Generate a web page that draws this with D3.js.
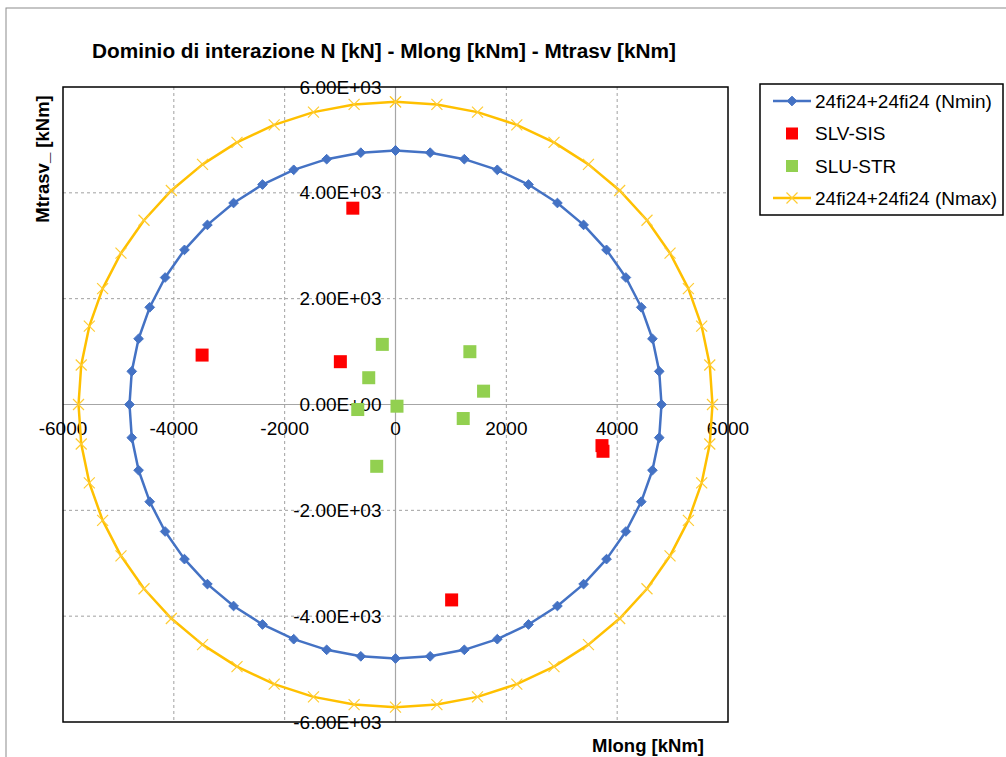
<!DOCTYPE html>
<html>
<head>
<meta charset="utf-8">
<script src="https://cdn.jsdelivr.net/npm/d3@7"></script>
<style>
  html, body { margin: 0; padding: 0; background: #fff; }
  svg { display: block; font-family: "Liberation Sans", Arial, sans-serif; }
</style>
</head>
<body>
<svg id="chart" width="1006" height="757"></svg>
<script>
// ---- Data ----
const xTicks = [-6000, -4000, -2000, 0, 2000, 4000, 6000];
const xTickLabels = ["-6000", "-4000", "-2000", "0", "2000", "4000", "6000"];
const yTicks = [6000, 4000, 2000, 0, -2000, -4000, -6000];
const yTickLabels = ["6.00E+03", "4.00E+03", "2.00E+03", "0.00E+00", "-2.00E+03", "-4.00E+03", "-6.00E+03"];

// 24fi24+24fi24 (Nmin) domain
const nminX = [0,626,1242,1837,2400,2922,3394,3808,4157,4435,4636,4759,4800,4759,4636,4435,4157,3808,3394,2922,2400,1837,1242,626,0,-626,-1242,-1837,-2400,-2922,-3394,-3808,-4157,-4435,-4636,-4759,-4800,-4759,-4636,-4435,-4157,-3808,-3394,-2922,-2400,-1837,-1242,-626,0];
const nminY = [4800,4759,4636,4435,4157,3808,3394,2922,2400,1837,1242,626,0,-626,-1242,-1837,-2400,-2922,-3394,-3808,-4157,-4435,-4636,-4759,-4800,-4759,-4636,-4435,-4157,-3808,-3394,-2922,-2400,-1837,-1242,-626,0,626,1242,1837,2400,2922,3394,3808,4157,4435,4636,4759,4800];

// 24fi24+24fi24 (Nmax) domain
const nmaxX = [0,747,1480,2189,2860,3482,4045,4538,4954,5285,5525,5671,5720,5671,5525,5285,4954,4538,4045,3482,2860,2189,1480,747,0,-747,-1480,-2189,-2860,-3482,-4045,-4538,-4954,-5285,-5525,-5671,-5720,-5671,-5525,-5285,-4954,-4538,-4045,-3482,-2860,-2189,-1480,-747,0];
const nmaxY = [5720,5671,5525,5285,4954,4538,4045,3482,2860,2189,1480,747,0,-747,-1480,-2189,-2860,-3482,-4045,-4538,-4954,-5285,-5525,-5671,-5720,-5671,-5525,-5285,-4954,-4538,-4045,-3482,-2860,-2189,-1480,-747,0,747,1480,2189,2860,3482,4045,4538,4954,5285,5525,5671,5720];

// SLV-SIS
const slvX = [-770, -3490, -995, 3726, 3744, 1013];
const slvY = [3710, 934, 809, -777, -884, -3693];

// SLU-STR
const sluX = [-238, -483, 27, -681, -339, 1342, 1589, 1222];
const sluY = [1136, 506, -32, -95, -1168, 998, 252, -265];

const legendLabels = ["24fi24+24fi24 (Nmin)", "SLV-SIS", "SLU-STR", "24fi24+24fi24 (Nmax)"];

// ---- Drawing ----
const svg = d3.select("#chart");
const blue = "#4472C4", yellow = "#FFC000", red = "#FF0000", green = "#92D050";

// outer chart border
svg.append("rect").attr("x", 6).attr("y", 8).attr("width", 1010).attr("height", 760)
  .attr("fill", "none").attr("stroke", "#8c8c8c").attr("stroke-width", 1);

const plot = { left: 63, right: 728, top: 87, bottom: 722 };
const x = d3.scaleLinear().domain([-6000, 6000]).range([plot.left, plot.right]);
const y = d3.scaleLinear().domain([-6000, 6000]).range([plot.bottom, plot.top]);

// gridlines
const g = svg.append("g");
g.selectAll(".vg").data(xTicks.filter(v => v !== 0 && Math.abs(v) !== 6000)).enter().append("line")
  .attr("x1", d => x(d)).attr("x2", d => x(d)).attr("y1", plot.top).attr("y2", plot.bottom)
  .attr("stroke", "#a0a0a0").attr("stroke-width", 1).attr("stroke-dasharray", "3,3");
g.selectAll(".hg").data(yTicks.filter(v => v !== 0 && Math.abs(v) !== 6000)).enter().append("line")
  .attr("y1", d => y(d)).attr("y2", d => y(d)).attr("x1", plot.left).attr("x2", plot.right)
  .attr("stroke", "#a0a0a0").attr("stroke-width", 1).attr("stroke-dasharray", "3,3");

// zero axes
g.append("line").attr("x1", x(0)).attr("x2", x(0)).attr("y1", plot.top).attr("y2", plot.bottom)
  .attr("stroke", "#a6a6a6").attr("stroke-width", 1.2);
g.append("line").attr("y1", y(0)).attr("y2", y(0)).attr("x1", plot.left).attr("x2", plot.right)
  .attr("stroke", "#a6a6a6").attr("stroke-width", 1.2);

// plot border
svg.append("rect").attr("x", plot.left).attr("y", plot.top)
  .attr("width", plot.right - plot.left).attr("height", plot.bottom - plot.top)
  .attr("fill", "none").attr("stroke", "#000").attr("stroke-width", 1.5);

// tick labels
const tickFont = 19;
svg.append("g").selectAll("text").data(xTicks).enter().append("text")
  .attr("x", d => x(d)).attr("y", y(0) + 30)
  .attr("text-anchor", "middle").attr("font-size", tickFont).attr("fill", "#000")
  .text((d, i) => xTickLabels[i]);
svg.append("g").selectAll("text").data(yTicks).enter().append("text")
  .attr("x", x(0) - 14).attr("y", d => y(d)).attr("dy", "0.35em")
  .attr("text-anchor", "end").attr("font-size", tickFont).attr("fill", "#000")
  .text((d, i) => yTickLabels[i]);

// series lines
const line = d3.line().x(d => x(d[0])).y(d => y(d[1]));
const nmaxPts = nmaxX.map((v, i) => [v, nmaxY[i]]);
const nminPts = nminX.map((v, i) => [v, nminY[i]]);

svg.append("path").datum(nmaxPts).attr("d", line)
  .attr("fill", "none").attr("stroke", yellow).attr("stroke-width", 2.5).attr("stroke-linejoin", "round");
const crossSize = 5.5;
const crossPath = (cx, cy) => `M${cx - crossSize},${cy - crossSize}L${cx + crossSize},${cy + crossSize}M${cx - crossSize},${cy + crossSize}L${cx + crossSize},${cy - crossSize}`;
svg.append("g").selectAll("path").data(nmaxPts).enter().append("path")
  .attr("d", d => crossPath(x(d[0]), y(d[1])))
  .attr("stroke", "#FFCC33").attr("stroke-width", 1.2).attr("fill", "none");

svg.append("path").datum(nminPts).attr("d", line)
  .attr("fill", "none").attr("stroke", blue).attr("stroke-width", 2.5).attr("stroke-linejoin", "round");
const diamond = d3.symbol().type(d3.symbolDiamond2).size(60);
svg.append("g").selectAll("path").data(nminPts).enter().append("path")
  .attr("d", diamond).attr("transform", d => `translate(${x(d[0])},${y(d[1])})`)
  .attr("fill", blue).attr("stroke", blue).attr("stroke-width", 1);

// scatter series
const sq = 13;
svg.append("g").selectAll("rect").data(slvX.map((v, i) => [v, slvY[i]])).enter().append("rect")
  .attr("x", d => x(d[0]) - sq / 2).attr("y", d => y(d[1]) - sq / 2)
  .attr("width", sq).attr("height", sq).attr("fill", red);
svg.append("g").selectAll("rect").data(sluX.map((v, i) => [v, sluY[i]])).enter().append("rect")
  .attr("x", d => x(d[0]) - sq / 2).attr("y", d => y(d[1]) - sq / 2)
  .attr("width", sq).attr("height", sq).attr("fill", green);

// title
svg.append("text").attr("x", 92).attr("y", 58)
  .attr("font-size", 20).attr("font-weight", "bold").attr("fill", "#000")
  .attr("textLength", 584).attr("lengthAdjust", "spacingAndGlyphs")
  .text("Dominio di interazione N [kN] - Mlong [kNm] - Mtrasv [kNm]");

// axis titles
svg.append("text").attr("transform", "translate(49,159) rotate(-90)")
  .attr("text-anchor", "middle").attr("font-size", 18.5).attr("font-weight", "bold").attr("fill", "#000")
  .text("Mtrasv_ [kNm]");
svg.append("text").attr("x", 648).attr("y", 752)
  .attr("text-anchor", "middle").attr("font-size", 18.5).attr("font-weight", "bold").attr("fill", "#000")
  .text("Mlong [kNm]");

// legend
const lg = svg.append("g");
lg.append("rect").attr("x", 760).attr("y", 84).attr("width", 243).attr("height", 131)
  .attr("fill", "#fff").attr("stroke", "#000").attr("stroke-width", 1.5);
const ly = [101, 133.5, 166, 198];
const lx1 = 773, lx2 = 811, lmx = 792;
lg.append("line").attr("x1", lx1).attr("x2", lx2).attr("y1", ly[0]).attr("y2", ly[0])
  .attr("stroke", blue).attr("stroke-width", 2.5);
lg.append("path").attr("d", diamond).attr("transform", `translate(${lmx},${ly[0]})`).attr("fill", blue).attr("stroke", blue);
lg.append("rect").attr("x", lmx - 6).attr("y", ly[1] - 6).attr("width", 12).attr("height", 12).attr("fill", red);
lg.append("rect").attr("x", lmx - 6).attr("y", ly[2] - 6).attr("width", 12).attr("height", 12).attr("fill", green);
lg.append("line").attr("x1", lx1).attr("x2", lx2).attr("y1", ly[3]).attr("y2", ly[3])
  .attr("stroke", yellow).attr("stroke-width", 2.5);
lg.append("path").attr("d", crossPath(lmx, ly[3]))
  .attr("stroke", "#FFCC33").attr("stroke-width", 1.2);
lg.selectAll(".lt").data(legendLabels).enter().append("text")
  .attr("x", 815).attr("y", (d, i) => ly[i]).attr("dy", "0.35em")
  .attr("font-size", 19).attr("fill", "#000").text(d => d);
</script>
</body>
</html>
